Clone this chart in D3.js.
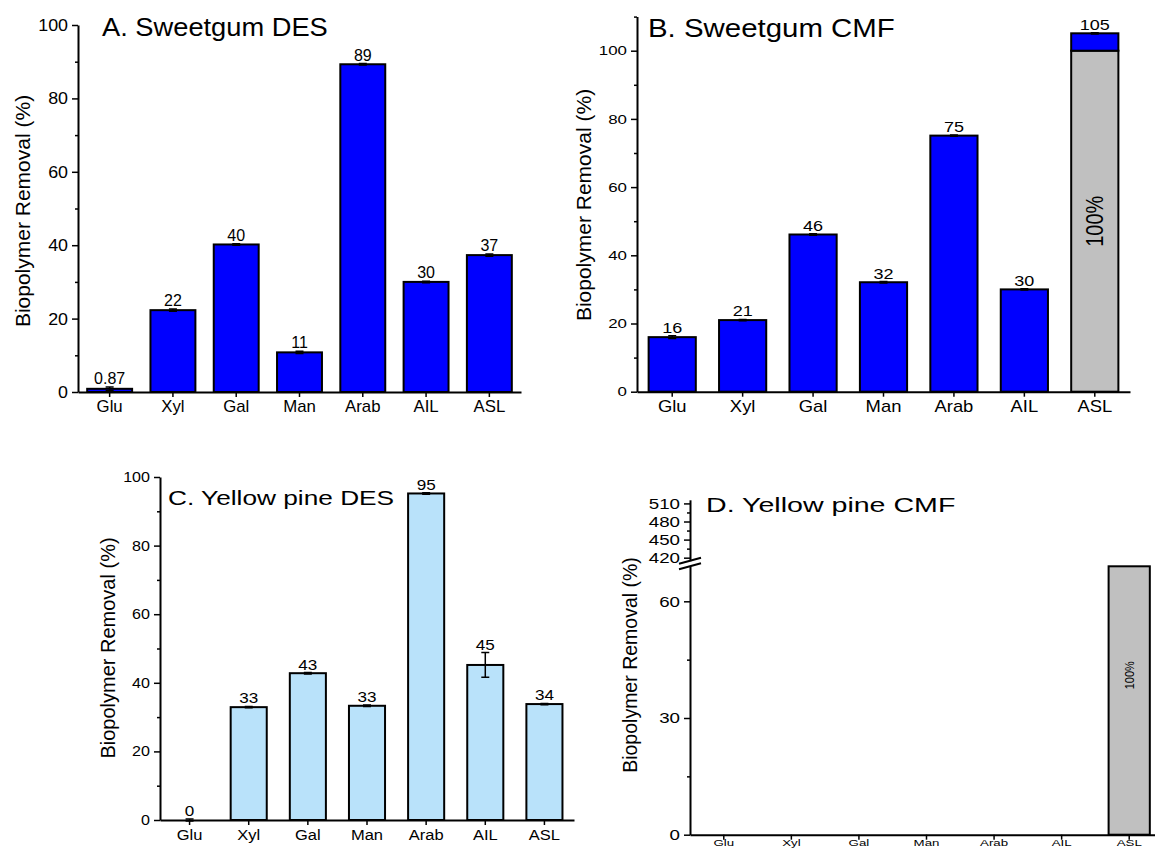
<!DOCTYPE html>
<html>
<head>
<meta charset="utf-8">
<script src="https://cdn.jsdelivr.net/npm/d3@7"></script>
<style>
body { margin: 0; background: #fff; }
svg { display: block; font-family: Arial, "Liberation Sans", sans-serif; }
</style>
</head>
<body>
<div id="app"></div>
<script>

// ---------- Data ----------

const categories = ["Glu", "Xyl", "Gal", "Man", "Arab", "AIL", "ASL"];

// A. Sweetgum DES
const sgDesValues = [0.87, 22.3, 40.2, 10.8, 89.3, 30.0, 37.3];
const sgDesErrors = [0.5, 0.3, 0.2, 0.3, 0.2, 0.2, 0.3];
const sgDesLabels = ["0.87", "22", "40", "11", "89", "30", "37"];

// B. Sweetgum CMF (ASL = grey 100% part with blue on top)
const sgCmfValues = [16.0, 21.0, 46.1, 32.1, 75.1, 30.0, 105.1];
const sgCmfBase   = [0, 0, 0, 0, 0, 0, 100];
const sgCmfErrors = [0.4, 0.2, 0.2, 0.2, 0.2, 0.2, 0.2];
const sgCmfLabels = ["16", "21", "46", "32", "75", "30", "105"];

// C. Yellow pine DES
const ypDesValues = [0, 32.9, 42.8, 33.3, 95.2, 45.2, 33.8];
const ypDesErrors = [0.3, 0.2, 0.2, 0.2, 0.2, 3.6, 0.2];
const ypDesLabels = ["0", "33", "43", "33", "95", "45", "34"];

// D. Yellow pine CMF (only the grey 100% ASL bar)
const ypCmfBase = [null, null, null, null, null, null, 100];

// Tick values
const ticks100 = [0, 20, 40, 60, 80, 100];
const minor100 = [10, 30, 50, 70, 90];
const minor110 = [10, 30, 50, 70, 90, 110];
const ticksDLow = [0, 30, 60];
const minorDLow = [15, 45];
const ticksDHigh = [420, 450, 480, 510];
const minorDHigh = [435, 465, 495];


// ---------- Constants ----------

const WIDTH = 1155;
const HEIGHT = 848;

const BLUE = "#0000ff";
const LIGHT_BLUE = "#b9e2fa";
const GREY = "#c0c0c0";
const Y_TITLE = "Biopolymer Removal (%)";


// ---------- Helpers ----------

// text with a horizontal stretch (the source figure is squashed a bit)
function addText(parent, x, y, str, size, sx, anchor, rotate) {
    return parent.append("text")
        .attr("transform", `translate(${x},${y}) scale(${sx},1)` + (rotate ? ` rotate(${rotate})` : ""))
        .attr("text-anchor", anchor || "start")
        .style("font-size", size + "px")
        .attr("fill", "#000")
        .text(str);
}

function styleTicks(g, size, sx) {
    g.attr("font-family", null);
    g.select(".domain").attr("stroke-width", 2);
    g.selectAll(".tick line").attr("stroke-width", 1.5);
    g.selectAll(".tick text")
        .style("font-size", size + "px")
        .attr("fill", "#000")
        .attr("transform", `scale(${sx},1)`)
        .attr("x", function() { return (+d3.select(this).attr("x") || 0) / sx; });
}

function leftAxis(svg, y, x0, major, minor, size, sx) {
    svg.append("g")
        .attr("transform", `translate(${x0},0)`)
        .call(d3.axisLeft(y).tickValues(minor).tickSize(3).tickFormat(""))
        .call(g => g.select(".domain").remove())
        .selectAll("line").attr("stroke-width", 1.5);
    svg.append("g")
        .attr("transform", `translate(${x0},0)`)
        .call(d3.axisLeft(y).tickValues(major).tickSize(6).tickPadding(4).tickSizeOuter(0))
        .call(g => styleTicks(g, size, sx));
}

function bottomAxis(svg, x, y0, size, sx, pad) {
    svg.append("g")
        .attr("transform", `translate(0,${y0})`)
        .call(d3.axisBottom(x).tickSize(5).tickPadding(pad == null ? 4 : pad).tickSizeOuter(0))
        .call(g => styleTicks(g, size, sx));
}

function yTitle(svg, p) {
    addText(svg, p.yLabelX, p.yLabelY, Y_TITLE, p.yLabelSize, 1, "middle", -90);
}


// ---------- Panels ----------

function drawPanel(svg, p) {
    const x = d3.scaleBand()
        .domain(categories)
        .range(p.xRange)
        .paddingInner(p.pad)
        .paddingOuter(p.pad / 2);
    const y = d3.scaleLinear().domain(p.yDomain).range(p.yRange);

    const rows = categories.map((c, i) => ({
        cat: c,
        value: p.values[i],
        base: p.base ? p.base[i] : 0,
        err: p.errors[i],
        label: p.labels[i]
    }));

    // grey 100% parts
    const g = svg.append("g");
    g.selectAll("rect.base")
        .data(rows.filter(d => d.base > 0))
        .enter()
        .append("rect")
        .attr("x", d => x(d.cat))
        .attr("width", x.bandwidth())
        .attr("y", d => y(d.base))
        .attr("height", d => y(0) - y(d.base))
        .attr("fill", GREY)
        .attr("stroke", "#000")
        .attr("stroke-width", 2);

    // main bars
    g.selectAll("rect.bar")
        .data(rows)
        .enter()
        .append("rect")
        .attr("x", d => x(d.cat))
        .attr("width", x.bandwidth())
        .attr("y", d => y(d.value))
        .attr("height", d => y(d.base) - y(d.value))
        .attr("fill", p.fill)
        .attr("stroke", d => d.value === 0 ? "#bbb" : "#000")
        .attr("stroke-width", 2);

    // error bars
    const cx = d => x(d.cat) + x.bandwidth() / 2;
    g.selectAll("path.err")
        .data(rows)
        .enter()
        .append("path")
        .attr("d", d => {
            const t = y(d.value + d.err), b = y(d.value - d.err);
            return `M${cx(d)},${t}V${b}M${cx(d) - 4},${t}H${cx(d) + 4}M${cx(d) - 4},${b}H${cx(d) + 4}`;
        })
        .attr("stroke", "#000")
        .attr("stroke-width", 1.5)
        .attr("fill", "none");

    // value labels
    rows.forEach(d => {
        addText(g, cx(d), y(d.value + d.err) - 3, d.label, p.valueSize, p.valueSx, "middle");
    });

    // rotated 100% label inside the grey part
    rows.filter(d => d.base > 0).forEach(d => {
        addText(g, cx(d), y(p.pctAt), "100%", p.pctSize, p.valueSx, "middle", -90)
            .attr("dy", "0.35em");
    });

    leftAxis(svg, y, p.xRange[0], p.ticks, p.minor, p.tickSize, p.tickSx);
    bottomAxis(svg, x, y(0), p.xLabelSize, p.xLabelSx);

    addText(svg, p.titleX, p.titleY, p.title, p.titleSize, p.titleSx);
    yTitle(svg, p);
}

function drawBrokenPanel(svg, p) {
    const x = d3.scaleBand()
        .domain(categories)
        .range(p.xRange)
        .paddingInner(p.pad)
        .paddingOuter(p.pad / 2);
    const yLow = d3.scaleLinear().domain(p.lowDomain).range(p.lowRange);
    const yHigh = d3.scaleLinear().domain(p.highDomain).range(p.highRange);
    const top = p.lowDomain[1];

    const rows = categories.map((c, i) => ({ cat: c, base: ypCmfBase[i] }))
        .filter(d => d.base != null);

    svg.selectAll("rect.dbar")
        .data(rows)
        .enter()
        .append("rect")
        .attr("x", d => x(d.cat))
        .attr("width", x.bandwidth())
        .attr("y", d => yLow(Math.min(d.base, top)))
        .attr("height", d => yLow(0) - yLow(Math.min(d.base, top)))
        .attr("fill", GREY)
        .attr("stroke", "#000")
        .attr("stroke-width", 2);

    rows.forEach(d => {
        addText(svg, x(d.cat) + x.bandwidth() / 2, yLow(p.pctAt), "100%", p.pctSize, 1.2, "middle", -90)
            .attr("dy", "0.35em");
    });

    const x0 = p.xRange[0];
    leftAxis(svg, yLow, x0, ticksDLow, minorDLow, p.tickSize, p.tickSx);
    leftAxis(svg, yHigh, x0, ticksDHigh, minorDHigh, p.tickSize, p.tickSx);

    // break marks
    [yHigh(p.highDomain[0]), yLow(top)].forEach(yy => {
        svg.append("line")
            .attr("x1", x0 - 11).attr("y1", yy + 3)
            .attr("x2", x0 + 11).attr("y2", yy - 3)
            .attr("stroke", "#000")
            .attr("stroke-width", 2);
    });

    // labels sit at the very bottom edge, kept small so they stay inside
    bottomAxis(svg, x, yLow(0), p.xLabelSize, p.xLabelSx, 0);

    addText(svg, p.titleX, p.titleY, p.title, p.titleSize, p.titleSx);
    yTitle(svg, p);
}


// ---------- Main Program ----------

function main() {
    const svg = d3.select("#app")
        .append("svg")
        .attr("width", WIDTH)
        .attr("height", HEIGHT);

    drawPanel(svg, {
        title: "A. Sweetgum DES", titleX: 102, titleY: 36, titleSize: 25.5, titleSx: 1.07,
        values: sgDesValues, base: null, errors: sgDesErrors, labels: sgDesLabels, fill: BLUE,
        xRange: [78, 521], pad: 0.29, yDomain: [0, 100], yRange: [392, 25],
        ticks: ticks100, minor: minor100, tickSize: 17, tickSx: 1.05,
        xLabelSize: 16, xLabelSx: 1.05, valueSize: 16, valueSx: 1.0,
        yLabelX: 30, yLabelY: 211, yLabelSize: 21
    });

    drawPanel(svg, {
        title: "B. Sweetgum CMF", titleX: 648, titleY: 37, titleSize: 26.5, titleSx: 1.11,
        values: sgCmfValues, base: sgCmfBase, errors: sgCmfErrors, labels: sgCmfLabels, fill: BLUE,
        pctAt: 50, pctSize: 20,
        xRange: [637, 1130], pad: 0.33, yDomain: [0, 110], yRange: [391.7, 16.6],
        ticks: ticks100, minor: minor110, tickSize: 13, tickSx: 1.3,
        xLabelSize: 16, xLabelSx: 1.15, valueSize: 15.4, valueSx: 1.17,
        yLabelX: 591, yLabelY: 205, yLabelSize: 21
    });

    drawPanel(svg, {
        title: "C. Yellow pine DES", titleX: 168, titleY: 505, titleSize: 21, titleSx: 1.25,
        values: ypDesValues, base: null, errors: ypDesErrors, labels: ypDesLabels, fill: LIGHT_BLUE,
        xRange: [160, 574], pad: 0.39, yDomain: [0, 100], yRange: [820, 477],
        ticks: ticks100, minor: minor100, tickSize: 14, tickSx: 1.15,
        xLabelSize: 15, xLabelSx: 1.1, valueSize: 15, valueSx: 1.14,
        yLabelX: 115, yLabelY: 648, yLabelSize: 20
    });

    drawBrokenPanel(svg, {
        title: "D. Yellow pine CMF", titleX: 706, titleY: 512, titleSize: 20, titleSx: 1.43,
        xRange: [690, 1163], pad: 0.39,
        lowDomain: [0, 69], lowRange: [834.7, 566.3],
        highDomain: [415, 516], highRange: [560.7, 499.8],
        pctAt: 41, pctSize: 11,
        tickSize: 15, tickSx: 1.25, xLabelSize: 9.5, xLabelSx: 1.4,
        yLabelX: 637, yLabelY: 665, yLabelSize: 19.5
    });
}

main();

</script>
</body>
</html>
